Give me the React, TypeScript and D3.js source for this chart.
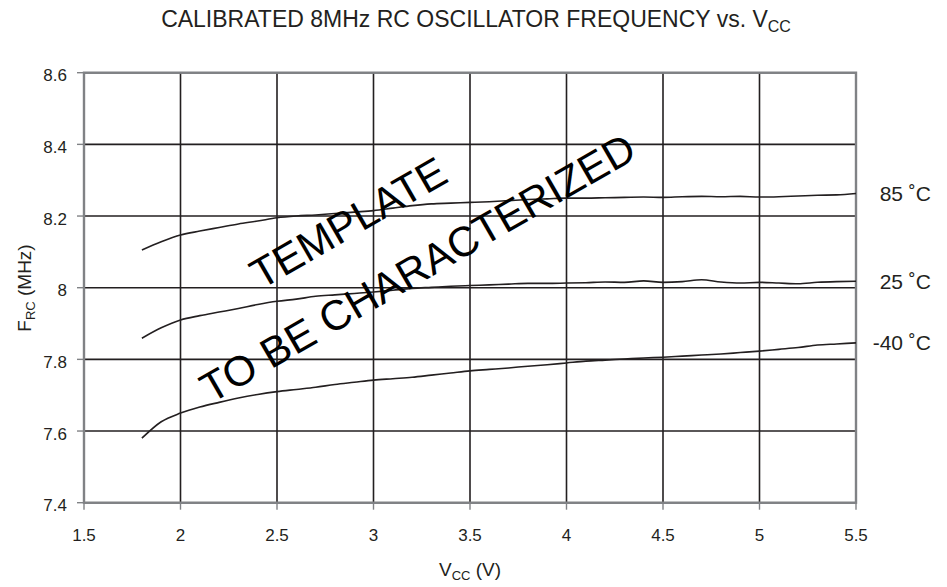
import React from "react";
import * as d3 from "d3";

const vcc = [1.8,1.9,2.0,2.1,2.2,2.3,2.4,2.5,2.6,2.7,2.8,2.9,3.0,3.1,3.2,3.3,3.4,3.5,3.6,3.7,3.8,3.9,4.0,4.1,4.2,4.3,4.4,4.5,4.6,4.7,4.8,4.9,5.0,5.1,5.2,5.3,5.4,5.5];
const f85 = [8.105,8.128,8.147,8.158,8.168,8.178,8.186,8.195,8.200,8.203,8.207,8.211,8.215,8.222,8.229,8.234,8.236,8.238,8.240,8.243,8.246,8.248,8.250,8.250,8.251,8.252,8.253,8.252,8.254,8.255,8.254,8.255,8.253,8.254,8.256,8.258,8.259,8.263];
const f25 = [7.859,7.888,7.910,7.922,7.932,7.942,7.953,7.962,7.968,7.976,7.980,7.984,7.988,7.993,7.998,8.001,8.004,8.006,8.008,8.010,8.012,8.012,8.013,8.014,8.016,8.015,8.019,8.015,8.017,8.022,8.016,8.013,8.015,8.013,8.011,8.015,8.017,8.018];
const fm40 = [7.580,7.626,7.650,7.667,7.680,7.692,7.702,7.710,7.716,7.722,7.730,7.736,7.742,7.746,7.750,7.756,7.762,7.768,7.772,7.776,7.781,7.785,7.790,7.795,7.798,7.801,7.804,7.806,7.809,7.812,7.815,7.819,7.823,7.828,7.833,7.840,7.843,7.846];
const seriesLabels = ["85 ˚C", "25 ˚C", "-40 ˚C"];
const seriesValues = [f85, f25, fm40];
const xTicks = [1.5,2,2.5,3,3.5,4,4.5,5,5.5];
const yTicks = [7.4,7.6,7.8,8.0,8.2,8.4,8.6];
const yTickLabels = ["7.4","7.6","7.8","8","8.2","8.4","8.6"];
const xTickLabels = ["1.5","2","2.5","3","3.5","4","4.5","5","5.5"];

const W = 947, H = 587;
const L = 84, R = 856, T = 72.7, B = 502.7;
const FONT = "'Liberation Sans', Arial, Helvetica, sans-serif";

export default function App() {
  const x = d3.scaleLinear().domain([1.5, 5.5]).range([L, R]);
  const y = d3.scaleLinear().domain([7.4, 8.6]).range([B, T]);
  const line = d3.line<number>().x((_, i) => x(vcc[i])).y((d) => y(d)).curve(d3.curveMonotoneX);
  const grid = "#231f20";
  const frame = "#808285";
  return (
    <svg width={W} height={H} style={{ position: "absolute", left: 0, top: 0, background: "#fff" }} fontFamily={FONT}>
      <text x={476} y={27} fontSize={23} textAnchor="middle" fill="#231f20">
        CALIBRATED 8MHz RC OSCILLATOR FREQUENCY vs. V<tspan fontSize={16} dy={5}>CC</tspan>
      </text>
      {xTicks.map((t) => (
        <line key={"gx" + t} x1={x(t)} x2={x(t)} y1={T} y2={B} stroke={grid} strokeWidth={1.6} />
      ))}
      {yTicks.map((t) => (
        <line key={"gy" + t} x1={L} x2={R} y1={y(t)} y2={y(t)} stroke={grid} strokeWidth={1.6} />
      ))}
      <rect x={L} y={T} width={R - L} height={B - T} fill="none" stroke={frame} strokeWidth={2.4} />
      {yTicks.map((t) => (
        <line key={"ty" + t} x1={L - 7} x2={L} y1={y(t)} y2={y(t)} stroke={frame} strokeWidth={1.4} />
      ))}
      {xTicks.map((t) => (
        <line key={"tx" + t} x1={x(t)} x2={x(t)} y1={B} y2={B + 7} stroke={frame} strokeWidth={1.4} />
      ))}
      {yTicks.map((t, i) => (
        <text key={"ly" + t} x={67} y={y(t) + 8.5} fontSize={17} textAnchor="end" fill="#231f20">{yTickLabels[i]}</text>
      ))}
      {xTicks.map((t, i) => (
        <text key={"lx" + t} x={x(t)} y={540.5} fontSize={17} textAnchor="middle" fill="#231f20">{xTickLabels[i]}</text>
      ))}
      {seriesValues.map((vals, i) => (
        <path key={"s" + i} d={line(vals) || ""} fill="none" stroke="#231f20" strokeWidth={1.6} />
      ))}
      {seriesValues.map((vals, i) => (
        <text key={"sl" + i} x={931} y={y(vals[vals.length - 1]) + 7.5} fontSize={21} textAnchor="end" fill="#231f20">{seriesLabels[i]}</text>
      ))}
      <text x={470} y={576} fontSize={19} textAnchor="middle" fill="#231f20">
        V<tspan fontSize={13} dy={4}>CC</tspan><tspan dy={-4}> (V)</tspan>
      </text>
      <text transform="translate(31,288) rotate(-90)" fontSize={19} textAnchor="middle" fill="#231f20">
        F<tspan fontSize={13} dy={4}>RC</tspan><tspan dy={-4}> (MHz)</tspan>
      </text>
      <text transform="translate(261,290) rotate(-30)" fontSize={42} fill="#000">TEMPLATE</text>
      <text transform="translate(211,404) rotate(-30)" fontSize={42} fill="#000">TO BE CHARACTERIZED</text>
    </svg>
  );
}
